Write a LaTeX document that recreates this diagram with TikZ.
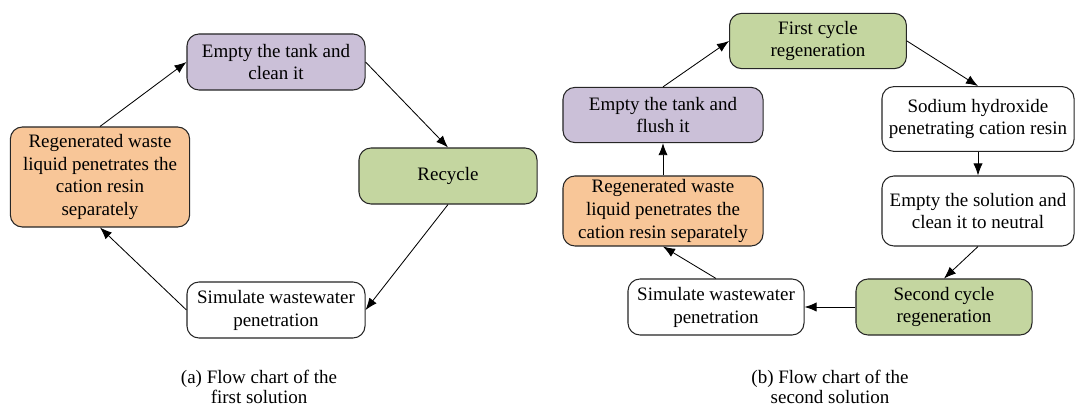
\documentclass[tikz,border=0pt]{standalone}
\usepackage{fontspec}
\setmainfont{Liberation Serif}
\usepackage{xcolor}
\usetikzlibrary{arrows.meta}
\definecolor{boxpurple}{RGB}{203,192,216}
\definecolor{boxgreen}{RGB}{196,214,160}
\definecolor{boxorange}{RGB}{248,198,152}

\begin{document}
\begin{tikzpicture}[x=0.025cm, y=-0.025cm,
        box/.style={draw=black!85, line width=0.75pt, rounded corners=0.3cm,
            align=center, inner sep=0pt, font=\fontsize{13.5}{16.3}\selectfont},
        flow/.style={-{Latex[length=3mm,width=2.3mm]}, line width=0.6pt},
        capt/.style={align=center, font=\fontsize{13.5}{14.5}\selectfont}]
    \useasboundingbox (0,0) rectangle (1078,406);
    % (a) first solution
    \node[box, fill=boxpurple, minimum width=4.45cm, minimum height=1.4cm]
        (emptyA) at (276,62) {Empty the tank and\\clean it};
    \node[box, fill=boxgreen, minimum width=4.45cm, minimum height=1.4cm]
        (recycle) at (448,176) {Recycle};
    \node[box, fill=white, minimum width=4.45cm, minimum height=1.4cm]
        (simA) at (276,310) {Simulate wastewater\\penetration};
    \node[box, fill=boxorange, minimum width=4.48cm, minimum height=2.5cm]
        (regenA) at (100,177) {Regenerated waste\\liquid penetrates the\\cation resin\\separately};
    \draw[flow] (regenA.north) -- (emptyA.west);
    \draw[flow] (emptyA.east) -- (recycle.north);
    \draw[flow] (recycle.south) -- (simA.east);
    \draw[flow] (simA.west) -- (regenA.south);
    \node[capt] (captA) at (259,387) {(a) Flow chart of the\\first solution};
    % (b) second solution
    \node[box, fill=boxgreen, minimum width=4.42cm, minimum height=1.38cm]
        (first) at (818,41) {First cycle\\regeneration};
    \node[box, fill=white, minimum width=4.8cm, minimum height=1.62cm]
        (sodium) at (978,119) {Sodium hydroxide\\penetrating cation resin};
    \node[box, fill=white, minimum width=4.8cm, minimum height=1.75cm]
        (neutral) at (978,211) {Empty the solution and\\clean it to neutral};
    \node[box, fill=boxgreen, minimum width=4.4cm, minimum height=1.4cm]
        (second) at (944,307) {Second cycle\\regeneration};
    \node[box, fill=white, minimum width=4.4cm, minimum height=1.4cm]
        (simB) at (716,307) {Simulate wastewater\\penetration};
    \node[box, fill=boxorange, minimum width=5cm, minimum height=1.75cm]
        (regenB) at (663,211) {Regenerated waste\\liquid penetrates the\\cation resin separately};
    \node[box, fill=boxpurple, minimum width=5cm, minimum height=1.38cm]
        (emptyB) at (663,115) {Empty the tank and\\flush it};
    \draw[flow] (emptyB.north) -- (first.west);
    \draw[flow] (first.east) -- (sodium.north);
    \draw[flow] (sodium.south) -- (neutral.north);
    \draw[flow] (neutral.south) -- (second.north);
    \draw[flow] (second.west) -- (simB.east);
    \draw[flow] (simB.north) -- (regenB.south);
    \draw[flow] (regenB.north) -- (emptyB.south);
    \node[capt] (captB) at (830,387) {(b) Flow chart of the\\second solution};
\end{tikzpicture}
\end{document}
